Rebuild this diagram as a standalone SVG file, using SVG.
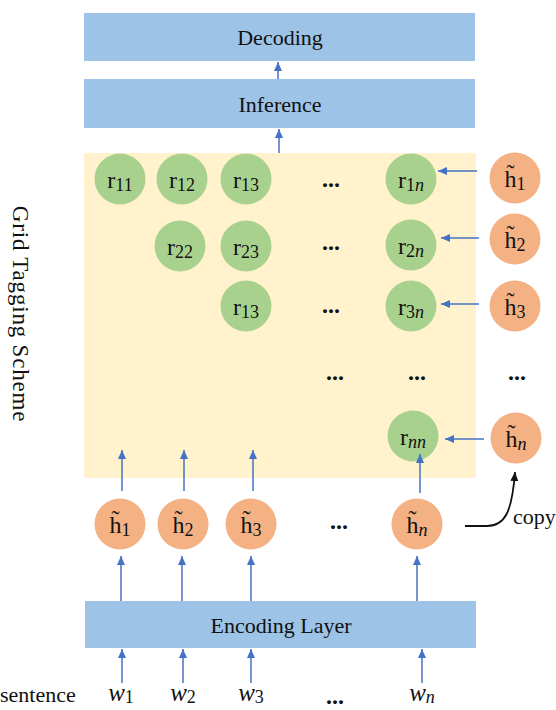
<svg xmlns="http://www.w3.org/2000/svg" width="556" height="710" viewBox="0 0 556 710">
<style>
.box{fill:#9DC3E6;}
.g{fill:#A9D18E;}
.o{fill:#F4B183;}
.t{font-family:"Liberation Serif","Times New Roman",serif;fill:#111;}
.big{font-size:22px;}
.lbl{font-size:24px;text-anchor:middle;}
.sub{font-size:18px;}
.it{font-style:italic;}
.dots{font-family:"Liberation Serif",serif;font-size:24px;font-weight:bold;text-anchor:middle;fill:#111;}
.a{stroke:#4472C4;stroke-width:1.5;fill:none;marker-end:url(#ah);}
</style>
<defs>
<marker id="ah" markerUnits="userSpaceOnUse" markerWidth="9" markerHeight="8" refX="9" refY="4" orient="auto"><path d="M0,0 L9,4 L0,8 z" fill="#4472C4"/></marker>
<marker id="bh" markerUnits="userSpaceOnUse" markerWidth="9" markerHeight="8" refX="9" refY="4" orient="auto"><path d="M0,0 L9,4 L0,8 z" fill="#111"/></marker>
</defs>
<rect x="0" y="0" width="556" height="710" fill="#fff"/>
<g id="grid-bg"><rect x="84" y="153" width="392" height="325" fill="#FFF2CC"/></g>
<g id="decoding"><rect class="box" x="84" y="13" width="391" height="48"/><text class="t big" x="280" y="45" text-anchor="middle">Decoding</text></g>
<g id="inference"><rect class="box" x="84" y="79" width="391" height="49"/><text class="t big" x="280" y="112" text-anchor="middle">Inference</text></g>
<g id="encoding"><rect class="box" x="85" y="601" width="391" height="47"/><text class="t big" x="281" y="633" text-anchor="middle">Encoding Layer</text></g>
<g id="grid-label"><text class="t" font-size="23" letter-spacing="0.8" text-anchor="middle" transform="translate(13,314) rotate(90)">Grid Tagging Scheme</text></g>

<g id="r11"><circle class="g" cx="120" cy="179" r="25.5"/><text class="t lbl" x="120" y="188">r<tspan class="sub" dy="3">11</tspan></text></g>
<g id="r12"><circle class="g" cx="182" cy="179" r="25.5"/><text class="t lbl" x="182" y="188">r<tspan class="sub" dy="3">12</tspan></text></g>
<g id="r13a"><circle class="g" cx="246" cy="179" r="25.5"/><text class="t lbl" x="246" y="188">r<tspan class="sub" dy="3">13</tspan></text></g>
<g id="r1n"><circle class="g" cx="411" cy="179" r="25.5"/><text class="t lbl" x="411" y="188">r<tspan class="sub" dy="3">1<tspan class="it">n</tspan></tspan></text></g>
<g id="r22"><circle class="g" cx="180" cy="246" r="25.5"/><text class="t lbl" x="180" y="255">r<tspan class="sub" dy="3">22</tspan></text></g>
<g id="r23"><circle class="g" cx="246" cy="246" r="25.5"/><text class="t lbl" x="246" y="255">r<tspan class="sub" dy="3">23</tspan></text></g>
<g id="r2n"><circle class="g" cx="411" cy="245" r="25.5"/><text class="t lbl" x="411" y="254">r<tspan class="sub" dy="3">2<tspan class="it">n</tspan></tspan></text></g>
<g id="r13b"><circle class="g" cx="246" cy="306" r="25.5"/><text class="t lbl" x="246" y="315">r<tspan class="sub" dy="3">13</tspan></text></g>
<g id="r3n"><circle class="g" cx="411" cy="306" r="25.5"/><text class="t lbl" x="411" y="315">r<tspan class="sub" dy="3">3<tspan class="it">n</tspan></tspan></text></g>
<g id="rnn"><circle class="g" cx="413" cy="436" r="25.5"/><text class="t lbl" x="413" y="445">r<tspan class="sub" dy="3"><tspan class="it">nn</tspan></tspan></text></g>

<g id="hc1"><circle class="o" cx="515" cy="178" r="25.5"/><text class="t lbl" x="515" y="187">h̃<tspan class="sub" dy="3">1</tspan></text></g>
<g id="hc2"><circle class="o" cx="515" cy="239" r="25.5"/><text class="t lbl" x="515" y="248">h̃<tspan class="sub" dy="3">2</tspan></text></g>
<g id="hc3"><circle class="o" cx="515" cy="306" r="25.5"/><text class="t lbl" x="515" y="315">h̃<tspan class="sub" dy="3">3</tspan></text></g>
<g id="hcn"><circle class="o" cx="516" cy="438" r="25.5"/><text class="t lbl" x="516" y="447">h̃<tspan class="sub it" dy="3">n</tspan></text></g>

<g id="h1"><circle class="o" cx="120" cy="524" r="25.5"/><text class="t lbl" x="120" y="533">h̃<tspan class="sub" dy="3">1</tspan></text></g>
<g id="h2"><circle class="o" cx="183" cy="524" r="25.5"/><text class="t lbl" x="183" y="533">h̃<tspan class="sub" dy="3">2</tspan></text></g>
<g id="h3"><circle class="o" cx="251" cy="524" r="25.5"/><text class="t lbl" x="251" y="533">h̃<tspan class="sub" dy="3">3</tspan></text></g>
<g id="hn"><circle class="o" cx="417" cy="524" r="25.5"/><text class="t lbl" x="417" y="533">h̃<tspan class="sub it" dy="3">n</tspan></text></g>

<g id="words">
<text class="t big" x="0" y="702">sentence</text>
<text class="t lbl" x="121" y="701"><tspan class="it" font-size="25">w</tspan><tspan class="sub" dy="2">1</tspan></text>
<text class="t lbl" x="183" y="701"><tspan class="it" font-size="25">w</tspan><tspan class="sub" dy="2">2</tspan></text>
<text class="t lbl" x="251" y="701"><tspan class="it" font-size="25">w</tspan><tspan class="sub" dy="2">3</tspan></text>
<text class="t lbl" x="422" y="701"><tspan class="it" font-size="25">w</tspan><tspan class="sub it" dy="2">n</tspan></text>
</g>

<g id="ellipses">
<text class="dots" x="331" y="187">...</text>
<text class="dots" x="331" y="250">...</text>
<text class="dots" x="331" y="313">...</text>
<text class="dots" x="335" y="380">...</text>
<text class="dots" x="417" y="380">...</text>
<text class="dots" x="517" y="380">...</text>
<text class="dots" x="339" y="529">...</text>
<text class="dots" x="335" y="704">...</text>
</g>

<g id="connectors">
<line class="a" x1="278" y1="79" x2="278" y2="62"/>
<line class="a" x1="279" y1="153" x2="279" y2="129"/>
<line class="a" x1="477" y1="171" x2="438" y2="171"/>
<line class="a" x1="479" y1="238" x2="441" y2="238"/>
<line class="a" x1="479" y1="304" x2="441" y2="304"/>
<line class="a" x1="484" y1="439" x2="445" y2="439"/>
<line class="a" x1="122" y1="491" x2="122" y2="450"/>
<line class="a" x1="184" y1="491" x2="184" y2="450"/>
<line class="a" x1="253" y1="491" x2="253" y2="450"/>
<line class="a" x1="420" y1="493" x2="420" y2="454"/>
<line class="a" x1="121" y1="601" x2="121" y2="556"/>
<line class="a" x1="182" y1="601" x2="182" y2="556"/>
<line class="a" x1="251" y1="601" x2="251" y2="556"/>
<line class="a" x1="417" y1="601" x2="417" y2="556"/>
<line class="a" x1="122" y1="683" x2="122" y2="649"/>
<line class="a" x1="183" y1="683" x2="183" y2="649"/>
<line class="a" x1="251" y1="683" x2="251" y2="649"/>
<line class="a" x1="422" y1="683" x2="422" y2="649"/>
<path d="M465,526 L487,526 C505,526 512,512 515,472" fill="none" stroke="#111" stroke-width="1.8" marker-end="url(#bh)"/>
</g>
<g id="copy-label"><text class="t" font-size="22" x="513" y="524">copy</text></g>
</svg>
